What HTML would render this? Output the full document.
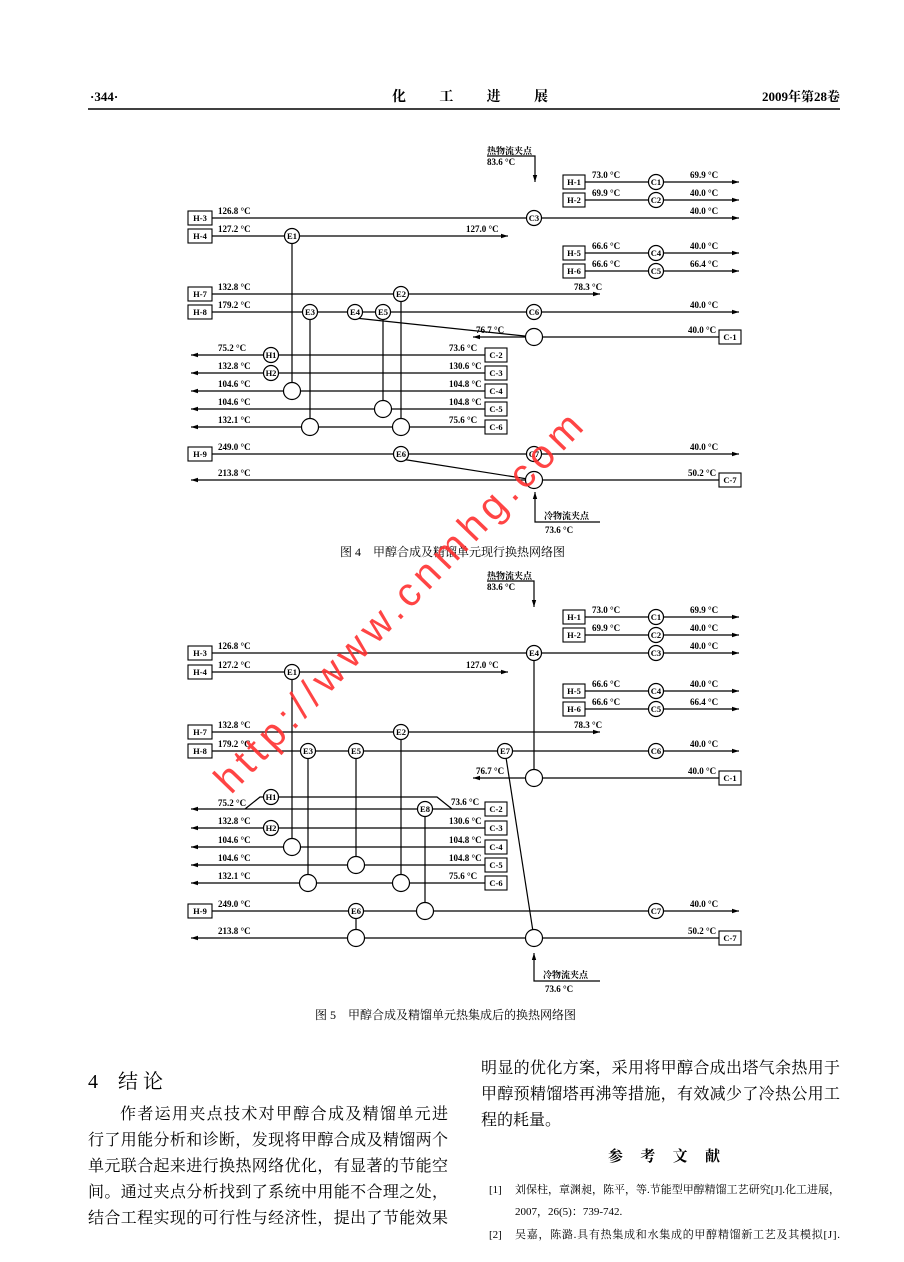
<!DOCTYPE html>
<html><head><meta charset="utf-8"><style>
html,body{margin:0;padding:0;background:#fff}
svg{display:block}
.l{stroke:#000;stroke-width:1.2;fill:none}
.c{stroke:#000;stroke-width:1.2;fill:#fff}
.b{stroke:#000;stroke-width:1.1;fill:#fff}
.t{font-family:"Liberation Serif","Noto Serif CJK SC",serif;font-size:9px;font-weight:bold;fill:#000}
.ct{font-family:"Liberation Serif",serif;font-size:8.5px;font-weight:bold;fill:#000;text-anchor:middle}
.z{font-family:"Liberation Serif","Noto Serif CJK SC",serif;fill:#000}
</style></head><body>
<svg width="904" height="1262" viewBox="0 0 904 1262" xmlns="http://www.w3.org/2000/svg">
<defs><marker id="a" markerWidth="8" markerHeight="6" refX="7" refY="3" orient="auto" markerUnits="userSpaceOnUse"><path d="M0,0.8 L7,3 L0,5.2z" fill="#000"/></marker></defs>

<!-- header -->
<text x="90" y="101" class="z" font-size="13" font-weight="bold">·344·</text>
<text x="392" y="101" class="z" font-size="14" font-weight="bold" textLength="156">化　工　进　展</text>
<text x="840" y="101" class="z" font-size="13" font-weight="bold" text-anchor="end">2009年第28卷</text>
<line x1="88" y1="109" x2="840" y2="109" stroke="#000" stroke-width="1.5"/>

<!-- ===== FIGURE 4 ===== -->
<g>
<text x="487" y="154" class="t" font-size="8">热物流夹点</text>
<text x="487" y="165" class="t">83.6 °C</text>
<path class="l" d="M487,156 H535 V182" marker-end="url(#a)"/>
<!-- right small streams -->
<rect class="b" x="563" y="175" width="22" height="14"/><text x="574" y="185" class="ct">H-1</text>
<rect class="b" x="563" y="193" width="22" height="14"/><text x="574" y="203" class="ct">H-2</text>
<rect class="b" x="563" y="246" width="22" height="14"/><text x="574" y="256" class="ct">H-5</text>
<rect class="b" x="563" y="264" width="22" height="14"/><text x="574" y="274" class="ct">H-6</text>
<line class="l" x1="585" y1="182" x2="739" y2="182" marker-end="url(#a)"/>
<line class="l" x1="585" y1="200" x2="739" y2="200" marker-end="url(#a)"/>
<line class="l" x1="585" y1="253" x2="739" y2="253" marker-end="url(#a)"/>
<line class="l" x1="585" y1="271" x2="739" y2="271" marker-end="url(#a)"/>
<text x="592" y="178" class="t">73.0 °C</text><text x="690" y="178" class="t">69.9 °C</text>
<text x="592" y="196" class="t">69.9 °C</text><text x="690" y="196" class="t">40.0 °C</text>
<text x="592" y="249" class="t">66.6 °C</text><text x="690" y="249" class="t">40.0 °C</text>
<text x="592" y="267" class="t">66.6 °C</text><text x="690" y="267" class="t">66.4 °C</text>
<!-- left boxes -->
<rect class="b" x="188" y="211" width="24" height="14"/><text x="200" y="221" class="ct">H-3</text>
<rect class="b" x="188" y="229" width="24" height="14"/><text x="200" y="239" class="ct">H-4</text>
<rect class="b" x="188" y="287" width="24" height="14"/><text x="200" y="297" class="ct">H-7</text>
<rect class="b" x="188" y="305" width="24" height="14"/><text x="200" y="315" class="ct">H-8</text>
<rect class="b" x="188" y="447" width="24" height="14"/><text x="200" y="457" class="ct">H-9</text>
<line class="l" x1="212" y1="218" x2="739" y2="218" marker-end="url(#a)"/>
<line class="l" x1="212" y1="236" x2="508" y2="236" marker-end="url(#a)"/>
<line class="l" x1="212" y1="294" x2="600" y2="294" marker-end="url(#a)"/>
<line class="l" x1="212" y1="312" x2="739" y2="312" marker-end="url(#a)"/>
<line class="l" x1="212" y1="454" x2="739" y2="454" marker-end="url(#a)"/>
<text x="218" y="214" class="t">126.8 °C</text><text x="690" y="214" class="t">40.0 °C</text>
<text x="218" y="232" class="t">127.2 °C</text><text x="466" y="232" class="t">127.0 °C</text>
<text x="218" y="290" class="t">132.8 °C</text><text x="574" y="290" class="t">78.3 °C</text>
<text x="218" y="308" class="t">179.2 °C</text><text x="690" y="308" class="t">40.0 °C</text>
<text x="218" y="450" class="t">249.0 °C</text><text x="690" y="450" class="t">40.0 °C</text>
<!-- cold streams -->
<rect class="b" x="719" y="330" width="22" height="14"/><text x="730" y="340" class="ct">C-1</text>
<line class="l" x1="719" y1="337" x2="473" y2="337" marker-end="url(#a)"/>
<text x="476" y="333" class="t">76.7 °C</text><text x="688" y="333" class="t">40.0 °C</text>
<rect class="b" x="485" y="348" width="22" height="14"/><text x="496" y="358" class="ct">C-2</text>
<rect class="b" x="485" y="366" width="22" height="14"/><text x="496" y="376" class="ct">C-3</text>
<rect class="b" x="485" y="384" width="22" height="14"/><text x="496" y="394" class="ct">C-4</text>
<rect class="b" x="485" y="402" width="22" height="14"/><text x="496" y="412" class="ct">C-5</text>
<rect class="b" x="485" y="420" width="22" height="14"/><text x="496" y="430" class="ct">C-6</text>
<line class="l" x1="485" y1="355" x2="191" y2="355" marker-end="url(#a)"/>
<line class="l" x1="485" y1="373" x2="191" y2="373" marker-end="url(#a)"/>
<line class="l" x1="485" y1="391" x2="191" y2="391" marker-end="url(#a)"/>
<line class="l" x1="485" y1="409" x2="191" y2="409" marker-end="url(#a)"/>
<line class="l" x1="485" y1="427" x2="191" y2="427" marker-end="url(#a)"/>
<text x="218" y="351" class="t">75.2 °C</text><text x="449" y="351" class="t">73.6 °C</text>
<text x="218" y="369" class="t">132.8 °C</text><text x="449" y="369" class="t">130.6 °C</text>
<text x="218" y="387" class="t">104.6 °C</text><text x="449" y="387" class="t">104.8 °C</text>
<text x="218" y="405" class="t">104.6 °C</text><text x="449" y="405" class="t">104.8 °C</text>
<text x="218" y="423" class="t">132.1 °C</text><text x="449" y="423" class="t">75.6 °C</text>
<rect class="b" x="719" y="473" width="22" height="14"/><text x="730" y="483" class="ct">C-7</text>
<line class="l" x1="719" y1="480" x2="191" y2="480" marker-end="url(#a)"/>
<text x="218" y="476" class="t">213.8 °C</text><text x="688" y="476" class="t">50.2 °C</text>
<!-- verticals -->
<line class="l" x1="292" y1="236" x2="292" y2="391"/>
<line class="l" x1="310" y1="312" x2="310" y2="427"/>
<line class="l" x1="383" y1="312" x2="383" y2="409"/>
<line class="l" x1="401" y1="294" x2="401" y2="427"/>
<line class="l" x1="355" y1="318" x2="534" y2="337"/>
<line class="l" x1="401" y1="459" x2="534" y2="480"/>
<!-- exchangers -->
<circle class="c" cx="656" cy="182" r="7.5"/><text x="656" y="185" class="ct">C1</text>
<circle class="c" cx="656" cy="200" r="7.5"/><text x="656" y="203" class="ct">C2</text>
<circle class="c" cx="534" cy="218" r="7.5"/><text x="534" y="221" class="ct">C3</text>
<circle class="c" cx="656" cy="253" r="7.5"/><text x="656" y="256" class="ct">C4</text>
<circle class="c" cx="656" cy="271" r="7.5"/><text x="656" y="274" class="ct">C5</text>
<circle class="c" cx="292" cy="236" r="7.5"/><text x="292" y="239" class="ct">E1</text>
<circle class="c" cx="401" cy="294" r="7.5"/><text x="401" y="297" class="ct">E2</text>
<circle class="c" cx="310" cy="312" r="7.5"/><text x="310" y="315" class="ct">E3</text>
<circle class="c" cx="355" cy="312" r="7.5"/><text x="355" y="315" class="ct">E4</text>
<circle class="c" cx="383" cy="312" r="7.5"/><text x="383" y="315" class="ct">E5</text>
<circle class="c" cx="534" cy="312" r="7.5"/><text x="534" y="315" class="ct">C6</text>
<circle class="c" cx="534" cy="337" r="8.5"/>
<circle class="c" cx="271" cy="355" r="7.5"/><text x="271" y="358" class="ct">H1</text>
<circle class="c" cx="271" cy="373" r="7.5"/><text x="271" y="376" class="ct">H2</text>
<circle class="c" cx="292" cy="391" r="8.5"/>
<circle class="c" cx="383" cy="409" r="8.5"/>
<circle class="c" cx="310" cy="427" r="8.5"/>
<circle class="c" cx="401" cy="427" r="8.5"/>
<circle class="c" cx="401" cy="454" r="7.5"/><text x="401" y="457" class="ct">E6</text>
<circle class="c" cx="534" cy="454" r="7.5"/><text x="534" y="457" class="ct">C7</text>
<circle class="c" cx="534" cy="480" r="8.5"/>
<path class="l" d="M600,522 H535 V492" marker-end="url(#a)"/>
<text x="544" y="519" class="t" font-size="8">冷物流夹点</text>
<text x="545" y="533" class="t">73.6 °C</text>
<text x="340" y="556" class="z" font-size="12">图 4　甲醇合成及精馏单元现行换热网络图</text>
</g>

<!-- ===== FIGURE 5 ===== -->
<g>
<text x="487" y="579" class="t" font-size="8">热物流夹点</text>
<text x="487" y="590" class="t">83.6 °C</text>
<path class="l" d="M487,581 H534 V607" marker-end="url(#a)"/>
<rect class="b" x="563" y="610" width="22" height="14"/><text x="574" y="620" class="ct">H-1</text>
<rect class="b" x="563" y="628" width="22" height="14"/><text x="574" y="638" class="ct">H-2</text>
<rect class="b" x="563" y="684" width="22" height="14"/><text x="574" y="694" class="ct">H-5</text>
<rect class="b" x="563" y="702" width="22" height="14"/><text x="574" y="712" class="ct">H-6</text>
<line class="l" x1="585" y1="617" x2="739" y2="617" marker-end="url(#a)"/>
<line class="l" x1="585" y1="635" x2="739" y2="635" marker-end="url(#a)"/>
<line class="l" x1="585" y1="691" x2="739" y2="691" marker-end="url(#a)"/>
<line class="l" x1="585" y1="709" x2="739" y2="709" marker-end="url(#a)"/>
<text x="592" y="613" class="t">73.0 °C</text><text x="690" y="613" class="t">69.9 °C</text>
<text x="592" y="631" class="t">69.9 °C</text><text x="690" y="631" class="t">40.0 °C</text>
<text x="592" y="687" class="t">66.6 °C</text><text x="690" y="687" class="t">40.0 °C</text>
<text x="592" y="705" class="t">66.6 °C</text><text x="690" y="705" class="t">66.4 °C</text>
<rect class="b" x="188" y="646" width="24" height="14"/><text x="200" y="656" class="ct">H-3</text>
<rect class="b" x="188" y="665" width="24" height="14"/><text x="200" y="675" class="ct">H-4</text>
<rect class="b" x="188" y="725" width="24" height="14"/><text x="200" y="735" class="ct">H-7</text>
<rect class="b" x="188" y="744" width="24" height="14"/><text x="200" y="754" class="ct">H-8</text>
<rect class="b" x="188" y="904" width="24" height="14"/><text x="200" y="914" class="ct">H-9</text>
<line class="l" x1="212" y1="653" x2="739" y2="653" marker-end="url(#a)"/>
<line class="l" x1="212" y1="672" x2="508" y2="672" marker-end="url(#a)"/>
<line class="l" x1="212" y1="732" x2="600" y2="732" marker-end="url(#a)"/>
<line class="l" x1="212" y1="751" x2="739" y2="751" marker-end="url(#a)"/>
<line class="l" x1="212" y1="911" x2="739" y2="911" marker-end="url(#a)"/>
<text x="218" y="649" class="t">126.8 °C</text><text x="690" y="649" class="t">40.0 °C</text>
<text x="218" y="668" class="t">127.2 °C</text><text x="466" y="668" class="t">127.0 °C</text>
<text x="218" y="728" class="t">132.8 °C</text><text x="574" y="728" class="t">78.3 °C</text>
<text x="218" y="747" class="t">179.2 °C</text><text x="690" y="747" class="t">40.0 °C</text>
<text x="218" y="907" class="t">249.0 °C</text><text x="690" y="907" class="t">40.0 °C</text>
<rect class="b" x="719" y="771" width="22" height="14"/><text x="730" y="781" class="ct">C-1</text>
<line class="l" x1="719" y1="778" x2="473" y2="778" marker-end="url(#a)"/>
<text x="476" y="774" class="t">76.7 °C</text><text x="688" y="774" class="t">40.0 °C</text>
<rect class="b" x="485" y="802" width="22" height="14"/><text x="496" y="812" class="ct">C-2</text>
<rect class="b" x="485" y="821" width="22" height="14"/><text x="496" y="831" class="ct">C-3</text>
<rect class="b" x="485" y="840" width="22" height="14"/><text x="496" y="850" class="ct">C-4</text>
<rect class="b" x="485" y="858" width="22" height="14"/><text x="496" y="868" class="ct">C-5</text>
<rect class="b" x="485" y="876" width="22" height="14"/><text x="496" y="886" class="ct">C-6</text>
<line class="l" x1="485" y1="809" x2="191" y2="809" marker-end="url(#a)"/>
<line class="l" x1="485" y1="828" x2="191" y2="828" marker-end="url(#a)"/>
<line class="l" x1="485" y1="847" x2="191" y2="847" marker-end="url(#a)"/>
<line class="l" x1="485" y1="865" x2="191" y2="865" marker-end="url(#a)"/>
<line class="l" x1="485" y1="883" x2="191" y2="883" marker-end="url(#a)"/>
<path class="l" d="M245,809 L260,797 H437 L452,809"/>
<text x="218" y="806" class="t">75.2 °C</text><text x="451" y="805" class="t">73.6 °C</text>
<text x="218" y="824" class="t">132.8 °C</text><text x="449" y="824" class="t">130.6 °C</text>
<text x="218" y="843" class="t">104.6 °C</text><text x="449" y="843" class="t">104.8 °C</text>
<text x="218" y="861" class="t">104.6 °C</text><text x="449" y="861" class="t">104.8 °C</text>
<text x="218" y="879" class="t">132.1 °C</text><text x="449" y="879" class="t">75.6 °C</text>
<rect class="b" x="719" y="931" width="22" height="14"/><text x="730" y="941" class="ct">C-7</text>
<line class="l" x1="719" y1="938" x2="191" y2="938" marker-end="url(#a)"/>
<text x="218" y="934" class="t">213.8 °C</text><text x="688" y="934" class="t">50.2 °C</text>
<!-- verticals -->
<line class="l" x1="534" y1="653" x2="534" y2="778"/>
<line class="l" x1="292" y1="672" x2="292" y2="847"/>
<line class="l" x1="308" y1="751" x2="308" y2="883"/>
<line class="l" x1="356" y1="751" x2="356" y2="865"/>
<line class="l" x1="401" y1="732" x2="401" y2="883"/>
<line class="l" x1="425" y1="809" x2="425" y2="911"/>
<line class="l" x1="356" y1="911" x2="356" y2="938"/>
<line class="l" x1="505" y1="751" x2="534" y2="938"/>
<!-- exchangers -->
<circle class="c" cx="656" cy="617" r="7.5"/><text x="656" y="620" class="ct">C1</text>
<circle class="c" cx="656" cy="635" r="7.5"/><text x="656" y="638" class="ct">C2</text>
<circle class="c" cx="656" cy="653" r="7.5"/><text x="656" y="656" class="ct">C3</text>
<circle class="c" cx="656" cy="691" r="7.5"/><text x="656" y="694" class="ct">C4</text>
<circle class="c" cx="656" cy="709" r="7.5"/><text x="656" y="712" class="ct">C5</text>
<circle class="c" cx="534" cy="653" r="7.5"/><text x="534" y="656" class="ct">E4</text>
<circle class="c" cx="292" cy="672" r="7.5"/><text x="292" y="675" class="ct">E1</text>
<circle class="c" cx="401" cy="732" r="7.5"/><text x="401" y="735" class="ct">E2</text>
<circle class="c" cx="308" cy="751" r="7.5"/><text x="308" y="754" class="ct">E3</text>
<circle class="c" cx="356" cy="751" r="7.5"/><text x="356" y="754" class="ct">E5</text>
<circle class="c" cx="505" cy="751" r="7.5"/><text x="505" y="754" class="ct">E7</text>
<circle class="c" cx="656" cy="751" r="7.5"/><text x="656" y="754" class="ct">C6</text>
<circle class="c" cx="534" cy="778" r="8.5"/>
<circle class="c" cx="271" cy="797" r="7.5"/><text x="271" y="800" class="ct">H1</text>
<circle class="c" cx="425" cy="809" r="7.5"/><text x="425" y="812" class="ct">E8</text>
<circle class="c" cx="271" cy="828" r="7.5"/><text x="271" y="831" class="ct">H2</text>
<circle class="c" cx="292" cy="847" r="8.5"/>
<circle class="c" cx="356" cy="865" r="8.5"/>
<circle class="c" cx="308" cy="883" r="8.5"/>
<circle class="c" cx="401" cy="883" r="8.5"/>
<circle class="c" cx="356" cy="911" r="7.5"/><text x="356" y="914" class="ct">E6</text>
<circle class="c" cx="425" cy="911" r="8.5"/>
<circle class="c" cx="656" cy="911" r="7.5"/><text x="656" y="914" class="ct">C7</text>
<circle class="c" cx="356" cy="938" r="8.5"/>
<circle class="c" cx="534" cy="938" r="8.5"/>
<path class="l" d="M600,981 H534 V953" marker-end="url(#a)"/>
<text x="543" y="978" class="t" font-size="8">冷物流夹点</text>
<text x="545" y="992" class="t">73.6 °C</text>
<text x="315" y="1019" class="z" font-size="12">图 5　甲醇合成及精馏单元热集成后的换热网络图</text>
</g>

<!-- watermark -->
<text x="0" y="0" transform="translate(408,612) rotate(-46)" text-anchor="middle" font-family="Liberation Sans,sans-serif" font-size="40" fill="#ff3030" fill-opacity="0.9" textLength="510">http://www.cnmhg.com</text>

<!-- body text -->
<text x="88" y="1088" class="z" font-size="20">4　结 论</text>
<g class="z" font-size="16">
<text x="120" y="1119" textLength="328">作者运用夹点技术对甲醇合成及精馏单元进</text>
<text x="88" y="1145" textLength="360">行了用能分析和诊断，发现将甲醇合成及精馏两个</text>
<text x="88" y="1171" textLength="360">单元联合起来进行换热网络优化，有显著的节能空</text>
<text x="88" y="1197" textLength="360">间。通过夹点分析找到了系统中用能不合理之处，</text>
<text x="88" y="1223" textLength="360">结合工程实现的可行性与经济性，提出了节能效果</text>
<text x="481" y="1073" textLength="359">明显的优化方案，采用将甲醇合成出塔气余热用于</text>
<text x="481" y="1099" textLength="359">甲醇预精馏塔再沸等措施，有效减少了冷热公用工</text>
<text x="481" y="1125">程的耗量。</text>
</g>
<text x="608" y="1161" class="z" font-size="15" font-weight="bold" textLength="112">参　考　文　献</text>
<g class="z" font-size="11">
<text x="489" y="1193">[1]</text>
<text x="515" y="1193" textLength="325">刘保柱，章渊昶，陈平，等.节能型甲醇精馏工艺研究[J].化工进展，</text>
<text x="515" y="1215">2007，26(5)：739-742.</text>
<text x="489" y="1238">[2]</text>
<text x="515" y="1238" textLength="325">吴嘉，陈潞.具有热集成和水集成的甲醇精馏新工艺及其模拟[J].</text>
</g>
</svg>
</body></html>
